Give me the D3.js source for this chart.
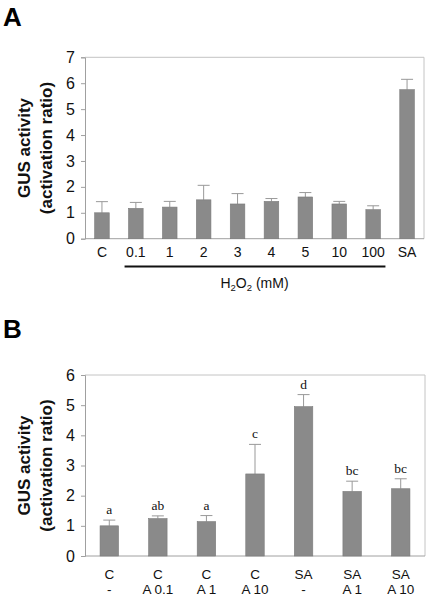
<!DOCTYPE html>
<html><head><meta charset="utf-8">
<script src="https://cdn.jsdelivr.net/npm/d3@7"></script>
<style>body{margin:0;background:#fff}svg{display:block}</style>
</head><body>
<svg id="c" width="432" height="599"></svg>
<script>
// Panel A data
const catsA = ["C","0.1","1","2","3","4","5","10","100","SA"];
const valsA = [1.0,1.17,1.22,1.5,1.34,1.44,1.61,1.34,1.12,5.75];
const errA  = [1.43,1.40,1.44,2.06,1.74,1.55,1.78,1.44,1.27,6.15];
const ticksA = [0,1,2,3,4,5,6,7];
// Panel B data
const catsB1 = ["C","C","C","C","SA","SA","SA"];
const catsB2 = ["-","A 0.1","A 1","A 10","-","A 1","A 10"];
const valsB = [1.0,1.24,1.14,2.72,4.95,2.14,2.23];
const errB  = [1.19,1.33,1.34,3.70,5.35,2.48,2.56];
const lettersB = ["a","ab","a","c","d","bc","bc"];
const ticksB = [0,1,2,3,4,5,6];

const svg = d3.select("#c");
const sans = "Liberation Sans, Arial, sans-serif";
const barFill = "#8a8a8a", barStroke = "#7a7a7a", axisCol = "#a0a0a0";

function panel(o){
  const g = svg.append("g");
  const x = d3.scaleBand().domain(d3.range(o.vals.length)).range([o.x0,o.x1]).paddingInner(o.pad).paddingOuter(o.pad/2);
  const y = d3.scaleLinear().domain([0,o.ymax]).range([o.y0,o.y1]);
  g.append("path").attr("d",`M${o.x0},${o.y1}H${o.x1}V${o.y0}`).attr("fill","none").attr("stroke","#c4c4c4").attr("stroke-width",1);
  const ya = g.append("g").attr("transform",`translate(${o.x0},0)`).call(d3.axisLeft(y).tickValues(o.ticks).tickSize(4).tickPadding(6).tickFormat(d3.format("d")));
  ya.select(".domain").attr("stroke",axisCol);
  ya.selectAll(".tick line").attr("stroke",axisCol);
  ya.selectAll("text").attr("font-family",sans).attr("font-size",16).attr("fill","#111");
  g.append("line").attr("x1",o.x0).attr("x2",o.x1).attr("y1",o.y0).attr("y2",o.y0).attr("stroke",axisCol);
  const eg = g.append("g").attr("stroke","#999").attr("stroke-width",1);
  o.vals.forEach((v,i)=>{
    const cx = x(i)+x.bandwidth()/2;
    eg.append("line").attr("x1",cx).attr("x2",cx).attr("y1",y(v)).attr("y2",y(o.err[i]));
    eg.append("line").attr("x1",cx-6).attr("x2",cx+6).attr("y1",y(o.err[i])).attr("y2",y(o.err[i]));
  });
  g.selectAll("rect.b").data(o.vals).enter().append("rect")
    .attr("x",(d,i)=>x(i)).attr("width",x.bandwidth())
    .attr("y",d=>y(d)).attr("height",d=>y(0)-y(d))
    .attr("fill",barFill).attr("stroke",barStroke).attr("stroke-width",0.6);
  const tx = g.append("text").attr("transform",`translate(${o.ytx},${(o.y0+o.y1)/2}) rotate(-90)`)
    .attr("text-anchor","middle").attr("font-family",sans).attr("font-weight","bold").attr("font-size",17).attr("fill","#111");
  tx.append("tspan").attr("x",0).attr("dy",0).text("GUS activity");
  tx.append("tspan").attr("x",0).attr("dy",22).text("(activation ratio)");
  g.append("text").attr("x",3).attr("y",o.letterY).attr("font-family",sans).attr("font-weight","bold").attr("font-size",26).attr("fill","#000").text(o.letter);
  return {g,x,y};
}

// Panel A
const A = panel({vals:valsA,err:errA,x0:85,x1:424,y0:238.7,y1:57.3,ymax:7,ticks:ticksA,pad:0.57,ytx:30,letter:"A",letterY:26});
A.g.selectAll("text.xl").data(catsA).enter().append("text")
  .attr("x",(d,i)=>A.x(i)+A.x.bandwidth()/2).attr("y",257).attr("text-anchor","middle")
  .attr("font-family",sans).attr("font-size",14).attr("fill","#111").text(d=>d);
A.g.append("line").attr("x1",A.x(1)-4).attr("x2",A.x(8)+A.x.bandwidth()+5).attr("y1",266.5).attr("y2",266.5).attr("stroke","#111").attr("stroke-width",2);
const h = A.g.append("text").attr("x",(A.x(1)+A.x(8)+A.x.bandwidth())/2).attr("y",288).attr("text-anchor","middle")
  .attr("font-family",sans).attr("font-size",14).attr("fill","#111");
h.append("tspan").text("H");
h.append("tspan").attr("font-size",9.5).attr("dy",3).text("2");
h.append("tspan").attr("dy",-3).text("O");
h.append("tspan").attr("font-size",9.5).attr("dy",3).text("2");
h.append("tspan").attr("dy",-3).text(" (mM)");

// Panel B
const B = panel({vals:valsB,err:errB,x0:85,x1:425,y0:556,y1:375,ymax:6,ticks:ticksB,pad:0.62,ytx:30,letter:"B",letterY:338});
B.g.selectAll("text.l1").data(catsB1).enter().append("text")
  .attr("x",(d,i)=>B.x(i)+B.x.bandwidth()/2).attr("y",579).attr("text-anchor","middle")
  .attr("font-family",sans).attr("font-size",13.5).attr("fill","#111").text(d=>d);
B.g.selectAll("text.l2").data(catsB2).enter().append("text")
  .attr("x",(d,i)=>B.x(i)+B.x.bandwidth()/2).attr("y",594).attr("text-anchor","middle")
  .attr("font-family",sans).attr("font-size",13.5).attr("fill","#111").text(d=>d);
B.g.selectAll("text.sig").data(lettersB).enter().append("text")
  .attr("x",(d,i)=>B.x(i)+B.x.bandwidth()/2).attr("y",(d,i)=>B.y(errB[i])-6).attr("text-anchor","middle")
  .attr("font-family","Liberation Serif, Times New Roman, serif").attr("font-size",13.5).attr("fill","#111").text(d=>d);
</script>
</body></html>
